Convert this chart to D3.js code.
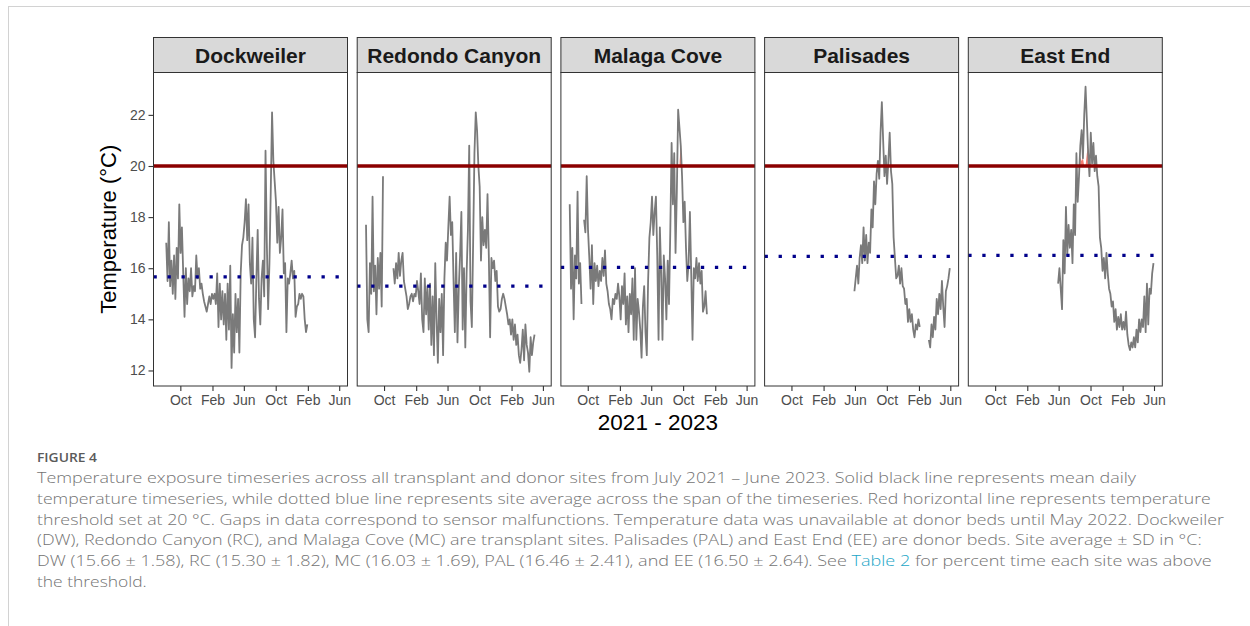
<!DOCTYPE html>
<html>
<head>
<meta charset="utf-8">
<script src="https://cdn.jsdelivr.net/npm/d3@7"></script>
<style>
  body { margin: 0; background: #fff; }
  svg { display: block; }
</style>
</head>
<body>
<div id="chart"></div>
<script>
// Readings taken every 5 days starting on this date (index 0)
const startDate = new Date(2021, 6, 24);
const stepDays = 5;

const sites = ['Dockweiler', 'Redondo Canyon', 'Malaga Cove', 'Palisades', 'East End'];
const siteMeans = [15.66, 15.30, 16.03, 16.46, 16.50];
const threshold = 20;

// index of the first reading in each series
const seriesStart = [3, 0, 0, 62, 62];

const dwTemps = [17.0, 15.5, 17.8, 15.3, 16.3, 15.0, 16.5, 14.8, 16.8, 15.6,
    18.5, 16.6, 17.6, 15.8, 14.1, 16.0, 14.6, 15.6, 15.1, 16.0,
    14.9, 15.3, 15.1, 16.5, 15.6, 16.0, 15.2, 15.4, 15.0, 14.7,
    14.5, 14.3, 14.6, 14.9, 14.6, 15.0, 14.8, 15.0, 14.6, 15.8,
    13.7, 15.4, 14.0, 15.1, 13.8, 15.0, 13.2, 15.4, 13.6, 16.1,
    12.1, 14.2, 12.7, 15.0, 13.5, 14.8, 12.7, 15.8, 16.9, 17.2,
    17.8, 18.7, 17.1, 18.5, 16.2, 15.4, 17.2, 14.0, 13.3, 15.6,
    17.5, 14.8, 13.8, 15.6, 16.3, 14.9, 20.6, 17.0, 14.4, 16.2,
    19.0, 22.1, 20.2, 19.4, 18.6, 17.0, 18.4, 16.6, 17.2, 18.3,
    15.8, 16.2, 13.5, 15.6, 15.4, 15.8, 16.3, 15.6, 15.9, 14.1,
    14.5, 14.6, 15.0, 14.8, 15.0, 14.9, 14.0, 13.5, 13.8];

const rcTemps = [17.7, 14.0, 13.5, 16.2, 15.0, 18.8, 15.1, 16.1, 14.2, 16.4,
    15.2, 16.6, 14.5, 19.6, null, null, null, null, null, null,
    null, 16.0, 15.4, 16.2, 15.6, 16.6, 15.7, 16.3, 16.6, 15.5,
    15.2, 14.9, 14.4, 14.6, 14.9, 15.0, 14.7, 15.0, 14.9, 15.5,
    15.1, 14.6, 15.8, 14.0, 13.5, 15.6, 14.2, 15.3, 13.6, 15.4,
    13.0, 14.9, 12.6, 16.2, 14.0, 12.3, 14.8, 13.5, 15.0, 12.6,
    15.6, 17.0, 16.3, 17.6, 18.8, 17.3, 17.8, 15.5, 13.5, 16.6,
    13.1, 15.2, 16.5, 18.2, 13.6, 16.0, 12.9, 15.8, 17.5, 20.8,
    14.7, 13.7, 17.0, 20.5, 22.1, 21.4, 20.0, 19.2, 16.3, 18.0,
    16.9, 17.5, 16.8, 18.9, 16.5, 13.3, 16.4, 16.0, 16.3, 15.5,
    15.9, 14.5, 14.3, 14.4, 14.8, 15.0, 14.8, 14.5, 14.2, 13.8,
    14.0, 13.4, 14.0, 13.2, 13.8, 13.0, 13.4, 12.6, 12.3, 12.8,
    13.6, 12.4, 13.8, 13.0, 12.7, 11.95, 13.3, 12.6, 13.1, 13.4];

const mcTemps = [18.5, 15.2, 16.8, 14.0, 16.5, 15.6, 19.0, 15.4, 16.2, 14.6,
    null, 17.9, 17.4, 19.6, 17.5, 16.4, 15.2, 16.9, 14.6, 16.2,
    15.5, 16.1, 15.3, 15.9, 15.5, 16.4, 15.7, 16.7, 15.4, 15.1,
    14.6, 14.4, 14.0, 14.8, 14.6, 15.0, 14.8, 15.4, 14.9, 14.0,
    15.3, 14.6, 15.8, 13.8, 14.9, 13.5, 15.0, 14.2, 15.6, 13.2,
    16.0, 13.2, 14.8, 14.3, 13.6, 12.5, 14.5, 15.3, 13.5, 12.6,
    15.5, 17.2, 17.8, 18.8, 17.3, 18.2, 18.8, 16.5, 13.2, 17.6,
    15.8, 13.2, 16.5, 15.6, 14.0, 16.3, 14.6, 17.5, 20.9, 18.5,
    20.5, 16.6, 19.0, 22.2, 21.5, 20.8, 19.6, 17.8, 18.6, 16.8,
    15.5, 16.2, 18.2, 15.8, 13.2, 16.0, 15.6, 16.4, 15.5, 16.2,
    15.4, 15.9, 14.3, 14.5, 15.1, 14.2];

const palTemps = [15.1, 15.6, 16.1, 15.4, 16.4, 16.9, 16.2, 17.6, 16.3, 17.3,
    16.2, 17.0, 16.6, 18.3, 17.6, 19.4, 18.5, 19.7, 20.2, 19.5,
    21.3, 22.5, 21.0, 19.6, 20.4, 19.3, 20.2, 21.3, 19.8, 19.3,
    17.2, 16.4, 15.6, 15.7, 16.1, 15.4, 16.0, 15.3, 15.2, 14.6,
    14.8, 13.9, 14.4, 13.9, 14.2, 13.6, 13.3, 13.8, 13.6, 14.0,
    13.7, null, null, null, null, null, null, 13.2, 12.9, 13.8,
    13.3, 14.1, 13.6, 14.8, 14.2, 15.0, 14.4, 15.5, 14.5, 13.7,
    15.1, 15.3, 15.6, 16.0];

const eeTemps = [15.4, 16.0, 15.2, 14.4, 17.1, 15.8, 18.4, 16.5, 17.7, 16.8,
    17.5, 16.2, 18.5, 17.3, 20.5, 18.6, 19.6, 20.8, 21.4, 20.3,
    22.0, 23.1, 21.8, 20.5, 19.6, 21.3, 20.1, 20.9, 19.8, 20.4,
    19.6, 19.2, 17.2, 16.8, 15.9, 16.4, 15.6, 16.6, 15.8, 15.2,
    15.0, 14.5, 14.7, 13.9, 14.4, 13.6, 14.1, 13.7, 14.2, 13.6,
    13.9, 13.6, 14.3, 13.4, 13.0, 12.8, 13.1, 12.9, 13.3, 12.9,
    13.6, 13.1, 14.0, 13.5, 14.0, 13.7, 14.9, 13.5, 15.4, 13.8,
    15.2, 15.0, 15.8, 16.2];

// red shading above the threshold (only visible at Malaga Cove and East End)
const aboveStart = [0, 0, 84, 0, 78];
const mcAbove = [20.0, 21.0, 20.0];
const eeAbove = [20.0, 20.35, 20.2, 20.3, 20.0, 20.0, 20.5, 20.7, 20.4, 20.0];

const tickDates = ['2021-10-01', '2022-02-01', '2022-06-01', '2022-10-01', '2023-02-01', '2023-06-01'];
const yTicks = [12, 14, 16, 18, 20, 22];

const captionLines = [
    'Temperature exposure timeseries across all transplant and donor sites from July 2021 \u2013 June 2023. Solid black line represents mean daily',
    'temperature timeseries, while dotted blue line represents site average across the span of the timeseries. Red horizontal line represents temperature',
    'threshold set at 20 \u00b0C. Gaps in data correspond to sensor malfunctions. Temperature data was unavailable at donor beds until May 2022. Dockweiler',
    '(DW), Redondo Canyon (RC), and Malaga Cove (MC) are transplant sites. Palisades (PAL) and East End (EE) are donor beds. Site average \u00b1 SD in \u00b0C:',
    'DW (15.66 \u00b1 1.58), RC (15.30 \u00b1 1.82), MC (16.03 \u00b1 1.69), PAL (16.46 \u00b1 2.41), and EE (16.50 \u00b1 2.64). See |Table 2| for percent time each site was above',
    'the threshold.'
];

document.addEventListener('DOMContentLoaded', () => {
    const width = 1250;
    const height = 626;

    // layout of the facets
    const panelLeft = 153.5;
    const panelW = 194;
    const panelStep = 203.7;
    const stripTop = 37.5;
    const plotTop = 72.5;
    const plotBottom = 386;
    const plotH = plotBottom - plotTop;
    const axisFont = "'Liberation Sans', Arial, sans-serif";

    const svg = d3.select('#chart')
        .append('svg')
        .attr('width', width)
        .attr('height', height);

    // light page frame
    svg.append('line')
        .attr('x1', 8).attr('x2', width).attr('y1', 6.5).attr('y2', 6.5)
        .attr('stroke', '#d2d2d2');
    svg.append('line')
        .attr('x1', 8.5).attr('x2', 8.5).attr('y1', 6).attr('y2', height)
        .attr('stroke', '#d2d2d2');

    const dateOf = i => d3.timeDay.offset(startDate, i * stepDays);
    const allTemps = [dwTemps, rcTemps, mcTemps, palTemps, eeTemps];
    const allAbove = [[], [], mcAbove, [], eeAbove];

    const series = sites.map((name, k) => ({
        name,
        mean: siteMeans[k],
        points: allTemps[k].map((v, j) => ({ date: dateOf(seriesStart[k] + j), temp: v })),
        above: allAbove[k].map((v, j) => ({ date: dateOf(aboveStart[k] + j), temp: v }))
    }));

    // shared scales with ggplot style 5% expansion
    const valid = series.flatMap(s => s.points.filter(p => p.temp != null));
    const [d0, d1] = d3.extent(valid, p => p.date);
    const dPad = (d1 - d0) * 0.05;
    const x = d3.scaleTime()
        .domain([new Date(+d0 - dPad), new Date(+d1 + dPad)])
        .range([0, panelW]);

    const [t0, t1] = d3.extent(valid, p => p.temp);
    const tPad = (t1 - t0) * 0.05;
    const y = d3.scaleLinear()
        .domain([t0 - tPad, t1 + tPad])
        .range([plotH, 0]);

    const line = d3.line()
        .defined(p => p.temp != null)
        .x(p => x(p.date))
        .y(p => y(p.temp));

    const aboveArea = d3.area()
        .x(p => x(p.date))
        .y0(y(threshold))
        .y1(p => y(p.temp));

    const parseDay = d3.timeParse('%Y-%m-%d');

    series.forEach((s, k) => {
        const g = svg.append('g')
            .attr('transform', `translate(${panelLeft + k * panelStep},${plotTop})`);

        // strip
        g.append('rect')
            .attr('x', 0)
            .attr('y', stripTop - plotTop)
            .attr('width', panelW)
            .attr('height', plotTop - stripTop)
            .attr('fill', '#d9d9d9')
            .attr('stroke', '#333')
            .attr('stroke-width', 1);
        g.append('text')
            .attr('x', panelW / 2)
            .attr('y', (stripTop - plotTop) / 2)
            .attr('dy', '0.36em')
            .attr('text-anchor', 'middle')
            .style('font-family', axisFont)
            .style('font-weight', 'bold')
            .style('font-size', '21px')
            .attr('fill', '#1a1a1a')
            .text(s.name);

        // x axis
        const xAxis = g.append('g')
            .attr('transform', `translate(0,${plotH})`)
            .call(d3.axisBottom(x)
                .tickValues(tickDates.map(parseDay))
                .tickFormat(d3.timeFormat('%b'))
                .tickSize(5)
                .tickPadding(4));
        xAxis.select('.domain').remove();
        xAxis.selectAll('line').attr('stroke', '#333').attr('stroke-width', 1.1);
        xAxis.selectAll('text')
            .style('font-family', axisFont)
            .style('font-size', '14px')
            .attr('fill', '#4d4d4d');

        if (k === 0) {
            const yAxis = g.append('g')
                .call(d3.axisLeft(y)
                    .tickValues(yTicks)
                    .tickSize(5)
                    .tickPadding(3));
            yAxis.select('.domain').remove();
            yAxis.selectAll('line').attr('stroke', '#333').attr('stroke-width', 1.1);
            yAxis.selectAll('text')
                .style('font-family', axisFont)
                .style('font-size', '14px')
                .attr('fill', '#4d4d4d');
        }

        // exceedance shading, daily series, threshold and site mean
        if (s.above.length) {
            g.append('path')
                .datum(s.above)
                .attr('d', aboveArea)
                .attr('fill', '#f47c70');
        }

        g.append('path')
            .datum(s.points)
            .attr('d', line)
            .attr('fill', 'none')
            .attr('stroke', '#7a7a7a')
            .attr('stroke-width', 1.8)
            .attr('stroke-linejoin', 'round');

        g.append('line')
            .attr('x1', 0).attr('x2', panelW)
            .attr('y1', y(threshold)).attr('y2', y(threshold))
            .attr('stroke', '#8b0000')
            .attr('stroke-width', 3.5);

        g.append('line')
            .attr('x1', 0).attr('x2', panelW)
            .attr('y1', y(s.mean)).attr('y2', y(s.mean))
            .attr('stroke', '#00008b')
            .attr('stroke-width', 3.3)
            .attr('stroke-dasharray', '3.3,10.7');

        // panel border
        g.append('rect')
            .attr('width', panelW)
            .attr('height', plotH)
            .attr('fill', 'none')
            .attr('stroke', '#333')
            .attr('stroke-width', 1);
    });

    // axis titles
    svg.append('text')
        .attr('transform', `translate(108,${(plotTop + plotBottom) / 2}) rotate(-90)`)
        .attr('text-anchor', 'middle')
        .attr('dy', '0.36em')
        .style('font-family', axisFont)
        .style('font-size', '22px')
        .attr('fill', '#000')
        .text('Temperature (\u00b0C)');

    svg.append('text')
        .attr('x', panelLeft + 2 * panelStep + panelW / 2)
        .attr('y', 430)
        .attr('text-anchor', 'middle')
        .style('font-family', axisFont)
        .style('font-size', '22.5px')
        .attr('fill', '#000')
        .text('2021 - 2023');

    // figure caption
    const captionFont = "'Open Sans', 'Noto Sans', sans-serif";
    const captionEnds = [1136, 1210.7, 1224, 1201.7, 1211.7, 146.7];

    svg.append('text')
        .attr('x', 37)
        .attr('y', 461.7)
        .style('font-family', captionFont)
        .style('font-size', '13px')
        .style('font-weight', 600)
        .attr('fill', '#5a5a5a')
        .attr('textLength', 60)
        .attr('lengthAdjust', 'spacingAndGlyphs')
        .text('FIGURE 4');

    captionLines.forEach((txt, i) => {
        const t = svg.append('text')
            .attr('x', 37)
            .attr('y', 483 + i * 20.8)
            .style('font-family', captionFont)
            .style('font-size', '15px')
            .style('font-weight', 300)
            .attr('fill', '#737373')
            .attr('textLength', captionEnds[i] - 37)
            .attr('lengthAdjust', 'spacingAndGlyphs');
        // "|" marks the linked part of a line
        txt.split('|').forEach((part, j) => {
            t.append('tspan')
                .attr('fill', j % 2 ? '#22a6c7' : '#737373')
                .text(part);
        });
    });
});
</script>
</body>
</html>
